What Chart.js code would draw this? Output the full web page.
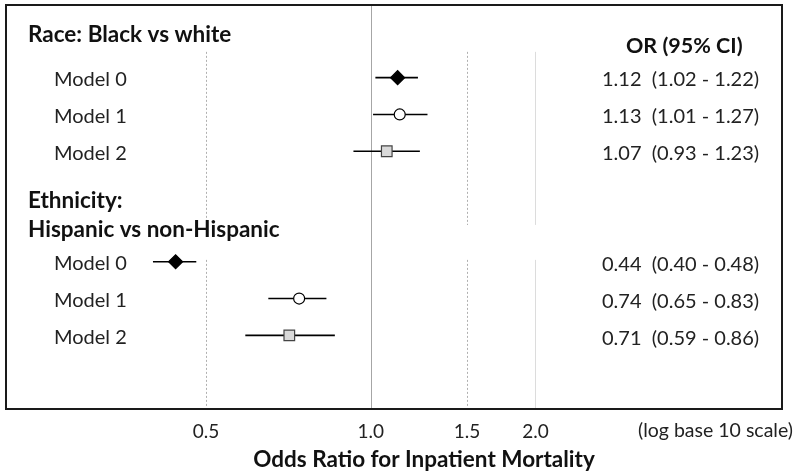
<!DOCTYPE html>
<html>
<head>
<meta charset="utf-8">
<script src="https://cdn.jsdelivr.net/npm/chart.js@4.4.1/dist/chart.umd.min.js"></script>
<style>
  html, body { margin: 0; padding: 0; background: #fff; }
  canvas { display: block; }
</style>
</head>
<body>
<canvas id="forestChart" width="800" height="472"></canvas>
<script>
// rows of the plot (top to bottom)
const rowLabels = ['Race: Black vs white', 'Model 0', 'Model 1', 'Model 2',
    'Ethnicity:', 'Hispanic vs non-Hispanic', 'Model 0', 'Model 1', 'Model 2'];
const headerRows = [0, 4, 5];
const models = ['Model 0', 'Model 1', 'Model 2'];

// Race: Black vs white
const raceRows = [1, 2, 3];
const raceOR = [1.12, 1.13, 1.07];
const raceLo = [1.02, 1.01, 0.93];
const raceHi = [1.22, 1.27, 1.23];

// Ethnicity: Hispanic vs non-Hispanic
const ethRows = [6, 7, 8];
const ethOR = [0.44, 0.74, 0.71];
const ethLo = [0.40, 0.65, 0.59];
const ethHi = [0.48, 0.83, 0.86];

const xTicks = [0.5, 1.0, 1.5, 2.0];
const dottedLines = [0.5, 1.5];
const lightLines = [2.0];
const refLine = 1.0;

const FONT = 'Lato, "Open Sans", sans-serif';

function fmt(v) { return v.toFixed(2); }

// markers: first datasets are drawn on top
const markerStyles = [
    { pointStyle: 'rectRot', radius: 7, bg: '#000', border: '#000' },
    { pointStyle: 'circle', radius: 5.5, bg: '#fff', border: '#000' },
    { pointStyle: 'rect', radius: 7.5, bg: '#d9d9d9', border: '#444' }
];

const markerSets = models.map((m, i) => ({
    label: m,
    data: [{ x: raceOR[i], y: raceRows[i] }, { x: ethOR[i], y: ethRows[i] }],
    pointStyle: markerStyles[i].pointStyle,
    pointRadius: markerStyles[i].radius,
    pointBackgroundColor: markerStyles[i].bg,
    pointBorderColor: markerStyles[i].border,
    pointBorderWidth: 1.2,
    showLine: false
}));

const ciSets = [];
models.forEach((m, i) => {
    ciSets.push({ label: 'race ' + m, data: [{ x: raceLo[i], y: raceRows[i] }, { x: raceHi[i], y: raceRows[i] }] });
    ciSets.push({ label: 'eth ' + m, data: [{ x: ethLo[i], y: ethRows[i] }, { x: ethHi[i], y: ethRows[i] }] });
});
ciSets.forEach(d => {
    d.showLine = true;
    d.borderColor = '#000';
    d.borderWidth = 1.6;
    d.pointRadius = 0;
});

// gridlines, box and all the text around the plot
const forestDecor = {
    id: 'forestDecor',
    beforeDraw(chart) {
        const c = chart.ctx;
        c.save();
        c.fillStyle = '#fff';
        c.fillRect(0, 0, chart.width, chart.height);
        c.restore();
    },
    beforeDatasetsDraw(chart) {
        const c = chart.ctx, a = chart.chartArea;
        const xs = chart.scales.x, ys = chart.scales.y;
        const segs = [[ys.getPixelForValue(0.3), ys.getPixelForValue(5.0)],
                      [ys.getPixelForValue(5.95), a.bottom]];
        c.save();
        c.lineWidth = 1;
        // reference line at OR = 1
        const x1 = Math.round(xs.getPixelForValue(refLine)) + 0.5;
        c.strokeStyle = '#a6a6a6';
        c.beginPath(); c.moveTo(x1, a.top); c.lineTo(x1, a.bottom); c.stroke();
        dottedLines.forEach(v => {
            const x = Math.round(xs.getPixelForValue(v)) + 0.5;
            c.strokeStyle = '#b0b0b0';
            c.setLineDash([2, 2]);
            segs.forEach(s => { c.beginPath(); c.moveTo(x, s[0]); c.lineTo(x, s[1]); c.stroke(); });
        });
        c.setLineDash([]);
        lightLines.forEach(v => {
            const x = Math.round(xs.getPixelForValue(v)) + 0.5;
            c.strokeStyle = '#dcdcdc';
            segs.forEach(s => { c.beginPath(); c.moveTo(x, s[0]); c.lineTo(x, s[1]); c.stroke(); });
        });
        c.restore();
    },
    afterDraw(chart) {
        const c = chart.ctx, a = chart.chartArea;
        const ys = chart.scales.y;
        c.save();
        // frame
        c.strokeStyle = '#1a1a1a';
        c.lineWidth = 2;
        c.strokeRect(a.left + 1, a.top + 1, a.right - a.left - 2, a.bottom - a.top - 1);

        c.textBaseline = 'alphabetic';
        c.textAlign = 'left';
        // row labels (baseline offsets from the row centre)
        const headerShift = { 0: 1, 4: 20, 5: 12 };
        rowLabels.forEach((t, r) => {
            const y = ys.getPixelForValue(r);
            if (headerRows.includes(r)) {
                c.fillStyle = '#111';
                c.font = 'bold 22.5px ' + FONT;
                c.fillText(t, 28, y + headerShift[r]);
            } else {
                c.fillStyle = '#222';
                c.font = '20px ' + FONT;
                c.fillText(t, 54, y + 8.5);
            }
        });
        // OR (95% CI) column
        c.fillStyle = '#111';
        c.font = 'bold 21.5px ' + FONT;
        c.fillText('OR (95% CI)', 626, ys.getPixelForValue(0) + 12.5);
        c.fillStyle = '#222';
        c.font = '20px ' + FONT;
        models.forEach((m, i) => {
            c.fillText(fmt(raceOR[i]) + '  (' + fmt(raceLo[i]) + ' - ' + fmt(raceHi[i]) + ')', 602, ys.getPixelForValue(raceRows[i]) + 8.5);
            c.fillText(fmt(ethOR[i]) + '  (' + fmt(ethLo[i]) + ' - ' + fmt(ethHi[i]) + ')', 602, ys.getPixelForValue(ethRows[i]) + 9.5);
        });
        // axis notes
        c.font = '19.5px ' + FONT;
        c.fillText('(log base 10 scale)', 638, 437);
        c.fillStyle = '#111';
        c.font = 'bold 22.5px ' + FONT;
        c.textAlign = 'center';
        c.fillText('Odds Ratio for Inpatient Mortality', 424, 467);
        c.restore();
    }
};

const ctx = document.getElementById('forestChart').getContext('2d');
const forestChart = new Chart(ctx, {
    type: 'scatter',
    data: { datasets: [...markerSets, ...ciSets] },
    options: {
        responsive: false,
        animation: false,
        layout: { autoPadding: false, padding: { left: 5, right: 17, top: 4, bottom: 0 } },
        plugins: {
            legend: { display: false },
            tooltip: { enabled: false }
        },
        scales: {
            x: {
                type: 'logarithmic',
                min: 0.2146,
                max: 5.67,
                grid: { display: false, drawTicks: false },
                border: { display: false },
                afterBuildTicks: (s) => { s.ticks = xTicks.map(v => ({ value: v })); },
                afterFit: (s) => { s.height = 63; },
                ticks: {
                    callback: (v) => Number(v).toFixed(1),
                    font: { family: FONT, size: 19 },
                    color: '#222',
                    padding: 11,
                    maxRotation: 0,
                    autoSkip: false
                }
            },
            y: {
                type: 'linear',
                display: false,
                reverse: true,
                min: -1,
                max: 10
            }
        }
    },
    plugins: [forestDecor]
});
</script>
</body>
</html>
